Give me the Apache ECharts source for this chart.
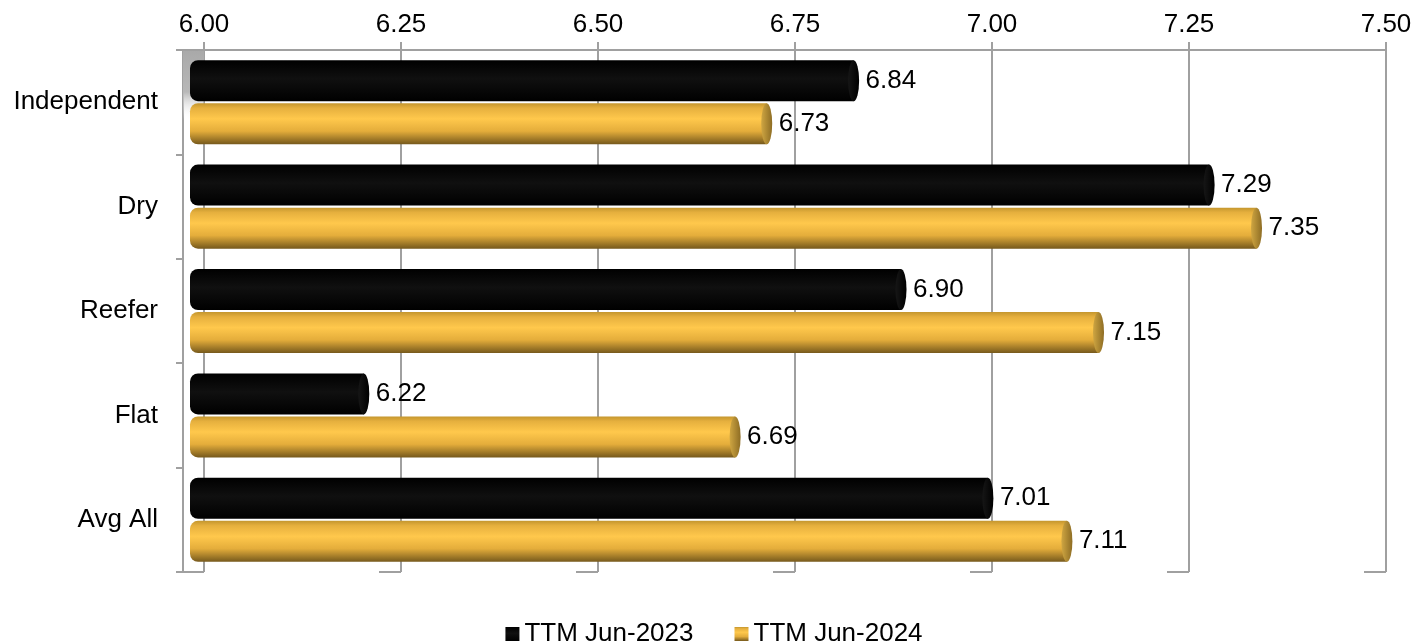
<!DOCTYPE html>
<html>
<head>
<meta charset="utf-8">
<title>TTM Jun-2023 vs TTM Jun-2024</title>
<script src="https://cdn.jsdelivr.net/npm/echarts@6/dist/echarts.min.js"></script>
<style>
  html, body { margin: 0; padding: 0; background: #fff; }
  #chart { width: 1428px; height: 644px; }
</style>
</head>
<body>
<div id="chart"></div>
<script>
// Categories, top to bottom
const categories = ['Independent', 'Dry', 'Reefer', 'Flat', 'Avg All'];
// Series values
const ttm2023 = [6.84, 7.29, 6.90, 6.22, 7.01];
const ttm2024 = [6.73, 7.35, 7.15, 6.69, 7.11];
// Value axis ticks
const xTicks = [6.00, 6.25, 6.50, 6.75, 7.00, 7.25, 7.50];
const seriesNames = ['TTM Jun-2023', 'TTM Jun-2024'];

const FONT = "'Liberation Sans', Arial, sans-serif";
const LINE = '#a0a0a0';

const blackBody = new echarts.graphic.LinearGradient(0, 0, 0, 1, [
  { offset: 0, color: '#000000' },
  { offset: 0.45, color: '#101010' },
  { offset: 1, color: '#000000' }
]);
const goldBody = new echarts.graphic.LinearGradient(0, 0, 0, 1, [
  { offset: 0, color: '#c4962e' },
  { offset: 0.12, color: '#e6b03e' },
  { offset: 0.38, color: '#ffc84c' },
  { offset: 0.68, color: '#e4ad3b' },
  { offset: 1, color: '#76591c' }
]);
const blackCap = new echarts.graphic.LinearGradient(0, 0, 1, 0, [
  { offset: 0, color: '#161616' },
  { offset: 1, color: '#000000' }
]);
const goldCap = new echarts.graphic.LinearGradient(0, 0, 1, 0, [
  { offset: 0, color: '#cfa642' },
  { offset: 1, color: '#8e6d24' }
]);

const BAR_W = 41;
const HALF_STEP = (BAR_W * 1.05) / 2;

const chart = echarts.init(document.getElementById('chart'), null, { renderer: 'canvas' });

const valueLabel = {
  show: true,
  position: 'right',
  distance: 12,
  fontSize: 26,
  fontFamily: FONT,
  color: '#000',
  formatter: p => Number(p.value).toFixed(2)
};

chart.setOption({
  animation: false,
  backgroundColor: '#ffffff',
  textStyle: { fontFamily: FONT },
  grid: [
    // back wall (gridlines and top scale)
    { left: 204, right: 42, top: 50, bottom: 72 },
    // front plane (bars)
    { left: 190, right: 53, top: 50, bottom: 72 }
  ],
  legend: {
    data: seriesNames,
    left: 'center',
    top: 616,
    icon: 'rect',
    itemWidth: 14,
    itemHeight: 14,
    itemGap: 41,
    textStyle: { fontSize: 26, color: '#000', fontFamily: FONT }
  },
  xAxis: [
    {
      gridIndex: 0,
      type: 'value',
      position: 'top',
      min: 6,
      max: 7.5,
      interval: 0.25,
      axisLine: { show: true, onZero: false, lineStyle: { color: LINE, width: 2 } },
      axisTick: { show: true, length: 8, lineStyle: { color: LINE, width: 2 } },
      splitLine: { show: true, lineStyle: { color: LINE, width: 2 } },
      axisLabel: {
        fontSize: 26, color: '#000', fontFamily: FONT, margin: 12,
        formatter: v => v.toFixed(2)
      }
    },
    {
      gridIndex: 1,
      type: 'value',
      position: 'top',
      min: 6,
      max: 7.5,
      interval: 0.25,
      axisLine: { show: true, onZero: false, lineStyle: { color: LINE, width: 2 } },
      axisTick: { show: false },
      splitLine: { show: false },
      axisLabel: { show: false }
    }
  ],
  yAxis: [
    { gridIndex: 0, type: 'value', min: 0, max: 1, show: false },
    {
      gridIndex: 1,
      type: 'category',
      data: categories,
      inverse: true,
      offset: 7,
      axisLine: { show: true, lineStyle: { color: LINE, width: 2 } },
      axisTick: { show: true, length: 7, lineStyle: { color: LINE, width: 2 } },
      axisLabel: { fontSize: 26, color: '#000', fontFamily: FONT, margin: 25 }
    }
  ],
  graphic: [
    // grey side wall at the top left
    {
      type: 'rect', z: 1, silent: true,
      shape: { x: 183, y: 50, width: 21, height: 70 },
      style: {
        fill: new echarts.graphic.LinearGradient(0, 0, 0, 1, [
          { offset: 0, color: '#a9a9a9' },
          { offset: 0.6, color: '#b8b8b8' },
          { offset: 1, color: 'rgba(255,255,255,0)' }
        ])
      }
    },
    {
      type: 'line', z: 1, silent: true,
      shape: { x1: 176, y1: 50, x2: 204, y2: 50 },
      style: { stroke: LINE, lineWidth: 2 }
    }
  ],
  series: [
    {
      name: seriesNames[0],
      type: 'bar',
      xAxisIndex: 1,
      yAxisIndex: 1,
      data: ttm2023,
      barWidth: BAR_W,
      barGap: '5%',
      z: 3,
      itemStyle: { color: blackBody, borderRadius: [8, 0, 0, 8] },
      label: valueLabel
    },
    {
      name: seriesNames[1],
      type: 'bar',
      xAxisIndex: 1,
      yAxisIndex: 1,
      data: ttm2024,
      barWidth: BAR_W,
      barGap: '5%',
      z: 3,
      itemStyle: { color: goldBody, borderRadius: [8, 0, 0, 8] },
      label: valueLabel
    },
    // elliptical end caps of the cylinders
    {
      name: 'cap2023',
      type: 'scatter',
      xAxisIndex: 1,
      yAxisIndex: 1,
      silent: true,
      z: 4,
      symbol: 'circle',
      symbolSize: [11, BAR_W],
      symbolOffset: [0, -HALF_STEP],
      itemStyle: { color: blackCap, opacity: 1 },
      data: ttm2023.map((v, i) => [v, i])
    },
    {
      name: 'cap2024',
      type: 'scatter',
      xAxisIndex: 1,
      yAxisIndex: 1,
      silent: true,
      z: 4,
      symbol: 'circle',
      symbolSize: [11, BAR_W],
      symbolOffset: [0, HALF_STEP],
      itemStyle: { color: goldCap, opacity: 1 },
      data: ttm2024.map((v, i) => [v, i])
    },
    // floor edges running from each back gridline toward the front
    {
      name: 'floor',
      type: 'custom',
      xAxisIndex: 0,
      yAxisIndex: 0,
      silent: true,
      z: 1,
      data: xTicks.map(v => [v, 0]),
      renderItem: (params, api) => {
        const p = api.coord([api.value(0), 0]);
        return {
          type: 'line',
          shape: { x1: p[0] - 22, y1: p[1], x2: p[0], y2: p[1] },
          style: { stroke: LINE, lineWidth: 2 }
        };
      }
    }
  ]
});
</script>
</body>
</html>
